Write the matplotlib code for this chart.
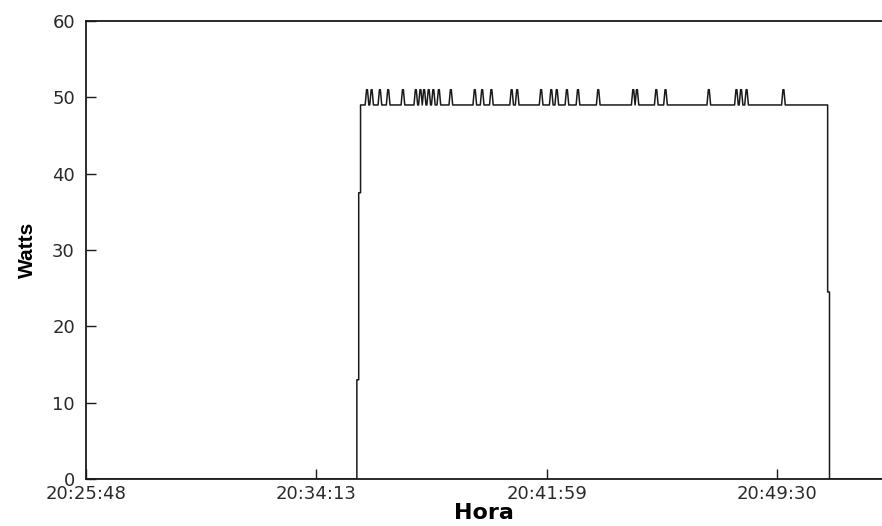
import numpy as np
import matplotlib
matplotlib.use("Agg")
import matplotlib.pyplot as plt

# ---- data (sample index on x axis) ----
n_samples = 865
tick_positions = [0, 250, 500, 750]
tick_labels = ["20:25:48", "20:34:13", "20:41:59", "20:49:30"]
y_ticks = [0, 10, 20, 30, 40, 50, 60]

step_samples = [294, 296, 298, 805, 807]      # level changes
step_levels = [13, 37.5, 49, 24.5, 0]
plateau_level = 49
peak_level = 51
spike_samples = [305, 310, 319, 328, 344, 358, 363, 367, 372, 377, 383, 396,
                 422, 430, 440, 462, 468, 494, 505, 511, 522, 534, 556,
                 594, 598, 619, 629, 676, 706, 711, 717, 757]

# ---- build the trace from the listed values ----
xs, ys = [0.0], [0.0]
level = 0.0
events = sorted([(t, "step", v) for t, v in zip(step_samples, step_levels)] +
                [(t, "spike", peak_level) for t in spike_samples])
for t, kind, v in events:
    if kind == "step":
        xs += [t, t]
        ys += [level, v]
        level = v
    else:
        xs += [t - 2.0, t - 0.5, t + 0.5, t + 2.0]
        ys += [plateau_level, v, v, plateau_level]
xs.append(n_samples - 1)
ys.append(level)

fig = plt.figure(figsize=(8.82, 5.26), dpi=100)
ax = fig.add_axes([86 / 882, 47 / 526, (882 - 86) / 882, (479 - 21) / 526])
ax.plot(xs, ys, color="#1a1a1a", lw=1.1)

ax.set_xlim(0, n_samples - 1)
ax.set_ylim(0, 60)
ax.set_xticks(tick_positions)
ax.set_xticklabels(tick_labels)
ax.set_yticks(y_ticks)
ax.tick_params(direction="in", length=7, width=1, colors="#1a1a1a",
               labelsize=13, labelcolor="#2a2a2a")
ax.tick_params(axis="x", pad=4)
ax.tick_params(axis="y", pad=8)
for lab in ax.get_xticklabels() + ax.get_yticklabels():
    lab.set_family("DejaVu Sans")
ax.spines["right"].set_visible(False)
for sp in ["left", "bottom", "top"]:
    ax.spines[sp].set_linewidth(1.3)
    ax.spines[sp].set_color("#1a1a1a")

ax.set_xlabel("Hora", fontsize=16, fontweight="bold", family="DejaVu Sans",
              labelpad=0)
ax.set_ylabel("Watts", fontsize=15, fontweight="bold", family="Liberation Sans",
              labelpad=11)

fig.savefig("out.png", dpi=100)
